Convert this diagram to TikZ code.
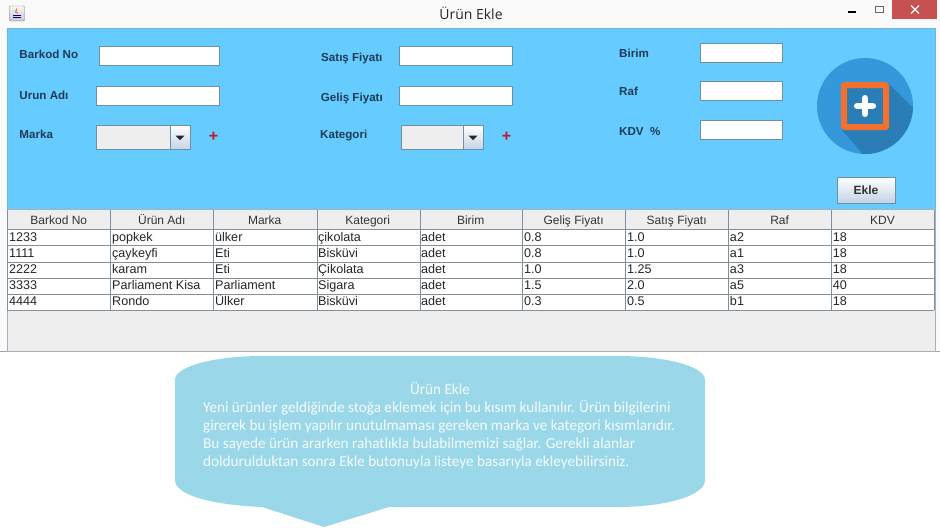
\documentclass[tikz,border=0pt]{standalone}
\usepackage{fontspec}
\setmainfont{Liberation Sans}
\newfontfamily\calloutfont{Carlito}
\newfontfamily\titlefont{Open Sans}
\usetikzlibrary{shadows}
\definecolor{panelblue}{HTML}{66CCFF}
\definecolor{panelgray}{HTML}{EEEEEE}
\definecolor{gridline}{HTML}{7F909E}
\definecolor{fieldline}{HTML}{6F8FA5}
\definecolor{labelink}{HTML}{1E3B57}
\definecolor{btnblue}{HTML}{C3D3E6}
\definecolor{bubble}{HTML}{9AD8E9}
\definecolor{iconblue}{HTML}{3498DB}
\definecolor{icondark}{HTML}{2A7DB5}
\definecolor{iconorange}{HTML}{F4702E}
\definecolor{closered}{HTML}{C75050}
\definecolor{plusred}{HTML}{C4122F}
\begin{document}
\begin{tikzpicture}[x=1pt, y=-1pt,
    formlabel/.style={anchor=base west, inner sep=0pt, text=labelink, font=\fontsize{11.6}{14}\selectfont\bfseries},
    field/.style={draw=fieldline, line width=0.6pt, fill=white, anchor=north west, inner sep=0pt, minimum height=19pt,
      general shadow={fill=white, shadow xshift=0.8pt, shadow yshift=-0.8pt}},
    combo/.style={draw=fieldline, line width=0.6pt, fill=panelgray, anchor=north west, inner sep=0pt, minimum height=24pt},
    combobtn/.style={draw=fieldline, line width=0.6pt, top color=white, bottom color=btnblue, anchor=north west, inner sep=0pt,
      minimum width=19.5pt, minimum height=24pt},
    redplus/.style={inner sep=0pt, text=plusred, font=\fontsize{16}{16}\selectfont\bfseries},
    headcell/.style={inner sep=0pt, anchor=base, text=black!80, font=\fontsize{12}{14}\selectfont},
    datacell/.style={inner sep=0pt, anchor=base west, text=black!85, font=\fontsize{12.6}{14}\selectfont}]
  \useasboundingbox (0,0) rectangle (940,528);

  \fill[white] (0,0) rectangle (940,528);
  \fill[black!2] (0,0) rectangle (940,352);
  \draw[black!35] (0,351.5) -- (940,351.5);

  \node[inner sep=0pt, text=black!85, font=\titlefont\fontsize{14}{16}\selectfont] (wintitle) at (471,13.5) {Ürün Ekle};
  \draw[black!50, rounded corners=1pt, top color=black!3, bottom color=black!22] (9.5,6) rectangle (24.5,21);
  \draw[iconorange, line width=1pt] (17,8.5) -- (15.5,12) -- (18,13);
  \draw[blue!60!black, line width=0.8pt] (13,15) -- (21,15) (13,17.5) -- (21,17.5);
  \draw[black, line width=2pt] (848,12) -- (856,12);
  \draw[black!60] (875,6) rectangle (883.5,12.5);
  \draw[black!60, line width=1pt] (875,6.5) -- (883.5,6.5);
  \fill[closered] (892,0) rectangle (936.5,19);
  \draw[white, line width=1.2pt] (911,5.5) -- (919,13.5) (919,5.5) -- (911,13.5);

  \fill[panelblue] (7,28.5) rectangle (935.5,209.5);
  \draw[panelblue!70!gray] (7,28.5) rectangle (935.5,209.5);

  \node[formlabel] (barkodlabel) at (19.3,58.7) {Barkod No};
  \node[formlabel] (urunlabel) at (19.3,99) {Urun Adı};
  \node[formlabel] (markalabel) at (19.3,138) {Marka};
  \node[formlabel] (satislabel) at (321,61) {Satış Fiyatı};
  \node[formlabel] (gelislabel) at (320.7,101) {Geliş Fiyatı};
  \node[formlabel] (kategorilabel) at (320,138) {Kategori};
  \node[formlabel] (birimlabel) at (619,57.7) {Birim};
  \node[formlabel] (raflabel) at (619,95.7) {Raf};
  \node[formlabel] (kdvlabel) at (619,135) {KDV\ \ \%};

  \node[field, minimum width=119.5pt] (barkodfield) at (99,46) {};
  \node[field, minimum width=122.5pt] (urunfield) at (96,86) {};
  \node[field, minimum width=112.5pt] (satisfield) at (399,46) {};
  \node[field, minimum width=112.5pt] (gelisfield) at (399,86) {};
  \node[field, minimum width=82pt] (birimfield) at (700,43) {};
  \node[field, minimum width=82pt] (raffield) at (700,81) {};
  \node[field, minimum width=82pt] (kdvfield) at (700,120) {};

  \node[combo, minimum width=93.5pt] (markacombo) at (96,125.3) {};
  \node[combobtn] (markabtn) at (170,125.3) {};
  \fill[black!85] ([xshift=-4.5pt,yshift=2pt]markabtn.center) -- ([xshift=4.5pt,yshift=2pt]markabtn.center) -- ([yshift=-2.5pt]markabtn.center) -- cycle;
  \node[redplus] (markaplus) at (213.5,136.7) {+};

  \node[combo, minimum width=81.5pt] (kategoricombo) at (401,125.3) {};
  \node[combobtn] (kategoribtn) at (463,125.3) {};
  \fill[black!85] ([xshift=-4.5pt,yshift=2pt]kategoribtn.center) -- ([xshift=4.5pt,yshift=2pt]kategoribtn.center) -- ([yshift=-2.5pt]kategoribtn.center) -- cycle;
  \node[redplus] (kategoriplus) at (506.5,136.7) {+};

  \fill[iconblue] (865,106) circle (48pt);
  \begin{scope}
    \clip (865,106) circle (48pt);
    \fill[icondark] (888,83) -- (938,133) -- (888,183) -- (842,130) -- cycle;
  \end{scope}
  \draw[iconorange, line width=6pt, rounded corners=1pt, fill=icondark] (844,85) rectangle (886,127);
  \draw[white, line width=6.5pt, line cap=round] (857.2,106) -- (872.8,106) (865,98.2) -- (865,113.8);

  \node[draw=fieldline, top color=white, bottom color=btnblue, inner sep=0pt, minimum width=57.5pt, minimum height=25.5pt,
    text=black!80, font=\fontsize{12}{14}\selectfont\bfseries] (eklebtn) at (866,190) {Ekle};

  \fill[panelgray] (7,209.5) rectangle (935.5,351);
  \fill[white] (7.5,229.5) rectangle (934,309.7);
  \draw[gridline!70] (7,209.5) rectangle (935.5,351);
  \foreach \y in {229.5,245.6,261.7,277.7,293.7,309.7}
    \draw[gridline] (7.3,\y) -- (934,\y);
  \foreach \x in {7.3,110.3,213.3,316.7,420,522.3,625.3,728.3,831.3,934}
    \draw[gridline] (\x,210) -- (\x,309.7);

  \foreach \head [count=\c from 0] in {Barkod No,Ürün Adı,Marka,Kategori,Birim,Geliş Fiyatı,Satış Fiyatı,Raf,KDV} {
    \pgfmathsetmacro\headx{58.8+102.97*\c}
    \node[headcell] (head-\c) at (\headx,224.5) {\head};
  }
  \foreach \rowy/\rowcells [count=\r] in {
      241.8/{1233,popkek,ülker,çikolata,adet,0.8,1.0,a2,18},
      257.8/{1111,çaykeyfi,Eti,Bisküvi,adet,0.8,1.0,a1,18},
      273.8/{2222,karam,Eti,Çikolata,adet,1.0,1.25,a3,18},
      289.8/{3333,Parliament Kisa,Parliament,Sigara,adet,1.5,2.0,a5,40},
      305.8/{4444,Rondo,Ülker,Bisküvi,adet,0.3,0.5,b1,18}} {
    \foreach \cell [count=\c from 0] in \rowcells {
      \pgfmathsetmacro\cellx{9+102.97*\c}
      \node[datacell] (cell-\r-\c) at (\cellx,\rowy) {\cell};
    }
  }

  \fill[bubble] (175,380) .. controls (175,366) and (215,356) .. (263,356) -- (617,356)
    .. controls (665,356) and (705,366) .. (705,380) -- (705,480)
    .. controls (705,496) and (665,507) .. (617,507) -- (389,507) -- (324,527) -- (262,507)
    .. controls (215,505) and (175,496) .. (175,480) -- cycle;
  \node[inner sep=0pt, text=white!90!bubble, font=\calloutfont\fontsize{15.2}{18}\selectfont] (bubbletitle) at (440,388) {Ürün Ekle};
  \node[inner sep=0pt, anchor=north west, align=left, text=white!90!bubble, font=\calloutfont\fontsize{15.2}{18.2}\selectfont] (bubbletext) at (203,400)
    {Yeni ürünler geldiğinde stoğa eklemek için bu kısım kullanılır. Ürün bilgilerini\\
     girerek bu işlem yapılır unutulmaması gereken marka ve kategori kısımlarıdır.\\
     Bu sayede ürün ararken rahatlıkla bulabilmemizi sağlar. Gerekli alanlar\\
     doldurulduktan sonra Ekle butonuyla listeye basarıyla ekleyebilirsiniz.};
\end{tikzpicture}
\end{document}
